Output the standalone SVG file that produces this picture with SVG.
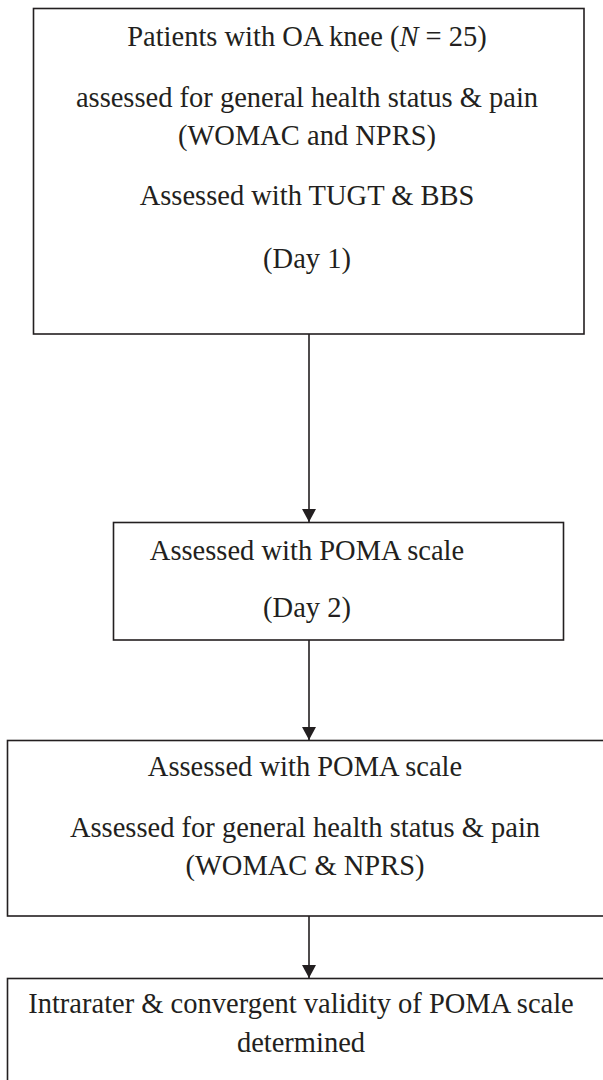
<svg xmlns="http://www.w3.org/2000/svg" width="603" height="1080" viewBox="0 0 603 1080">
<style>
.box{fill:#fff;stroke:#231f20;stroke-width:1.6}
.t{font-family:'Liberation Serif','Times New Roman',serif;font-size:28.5px;fill:#231f20;text-anchor:middle}
.c{stroke:#231f20;stroke-width:1.6;fill:none}
</style>
<defs>
<marker id="arr" viewBox="0 0 14 15" refX="14" refY="7.5" markerWidth="15" markerHeight="14" markerUnits="userSpaceOnUse" orient="auto">
<path d="M0,0 L14,7.5 L0,15 Z" fill="#231f20"/>
</marker>
</defs>
<rect width="603" height="1080" fill="#fff"/>
<g id="node1">
<rect class="box" x="33.5" y="8.5" width="550.5" height="325.5"/>
<text class="t" x="307" y="46">Patients with OA knee (<tspan font-style="italic">N</tspan> = 25)</text>
<text class="t" x="307" y="107">assessed for general health status &amp; pain</text>
<text class="t" x="307" y="145">(WOMAC and NPRS)</text>
<text class="t" x="307" y="205">Assessed with TUGT &amp; BBS</text>
<text class="t" x="307" y="268">(Day 1)</text>
</g>
<g id="node2">
<rect class="box" x="113.5" y="522.5" width="450" height="117.5"/>
<text class="t" x="307" y="560">Assessed with POMA scale</text>
<text class="t" x="307" y="617">(Day 2)</text>
</g>
<g id="node3">
<rect class="box" x="7.5" y="740.5" width="620" height="175.5"/>
<text class="t" x="305" y="776">Assessed with POMA scale</text>
<text class="t" x="305" y="837">Assessed for general health status &amp; pain</text>
<text class="t" x="305" y="875">(WOMAC &amp; NPRS)</text>
</g>
<g id="node4">
<rect class="box" x="7.5" y="978.5" width="620" height="130"/>
<text class="t" x="301" y="1013">Intrarater &amp; convergent validity of POMA scale</text>
<text class="t" x="301" y="1052">determined</text>
</g>
<g id="connectors">
<line class="c" x1="309" y1="334" x2="309" y2="522" marker-end="url(#arr)"/>
<line class="c" x1="309" y1="640" x2="309" y2="740" marker-end="url(#arr)"/>
<line class="c" x1="309" y1="916" x2="309" y2="978" marker-end="url(#arr)"/>
</g>
</svg>
